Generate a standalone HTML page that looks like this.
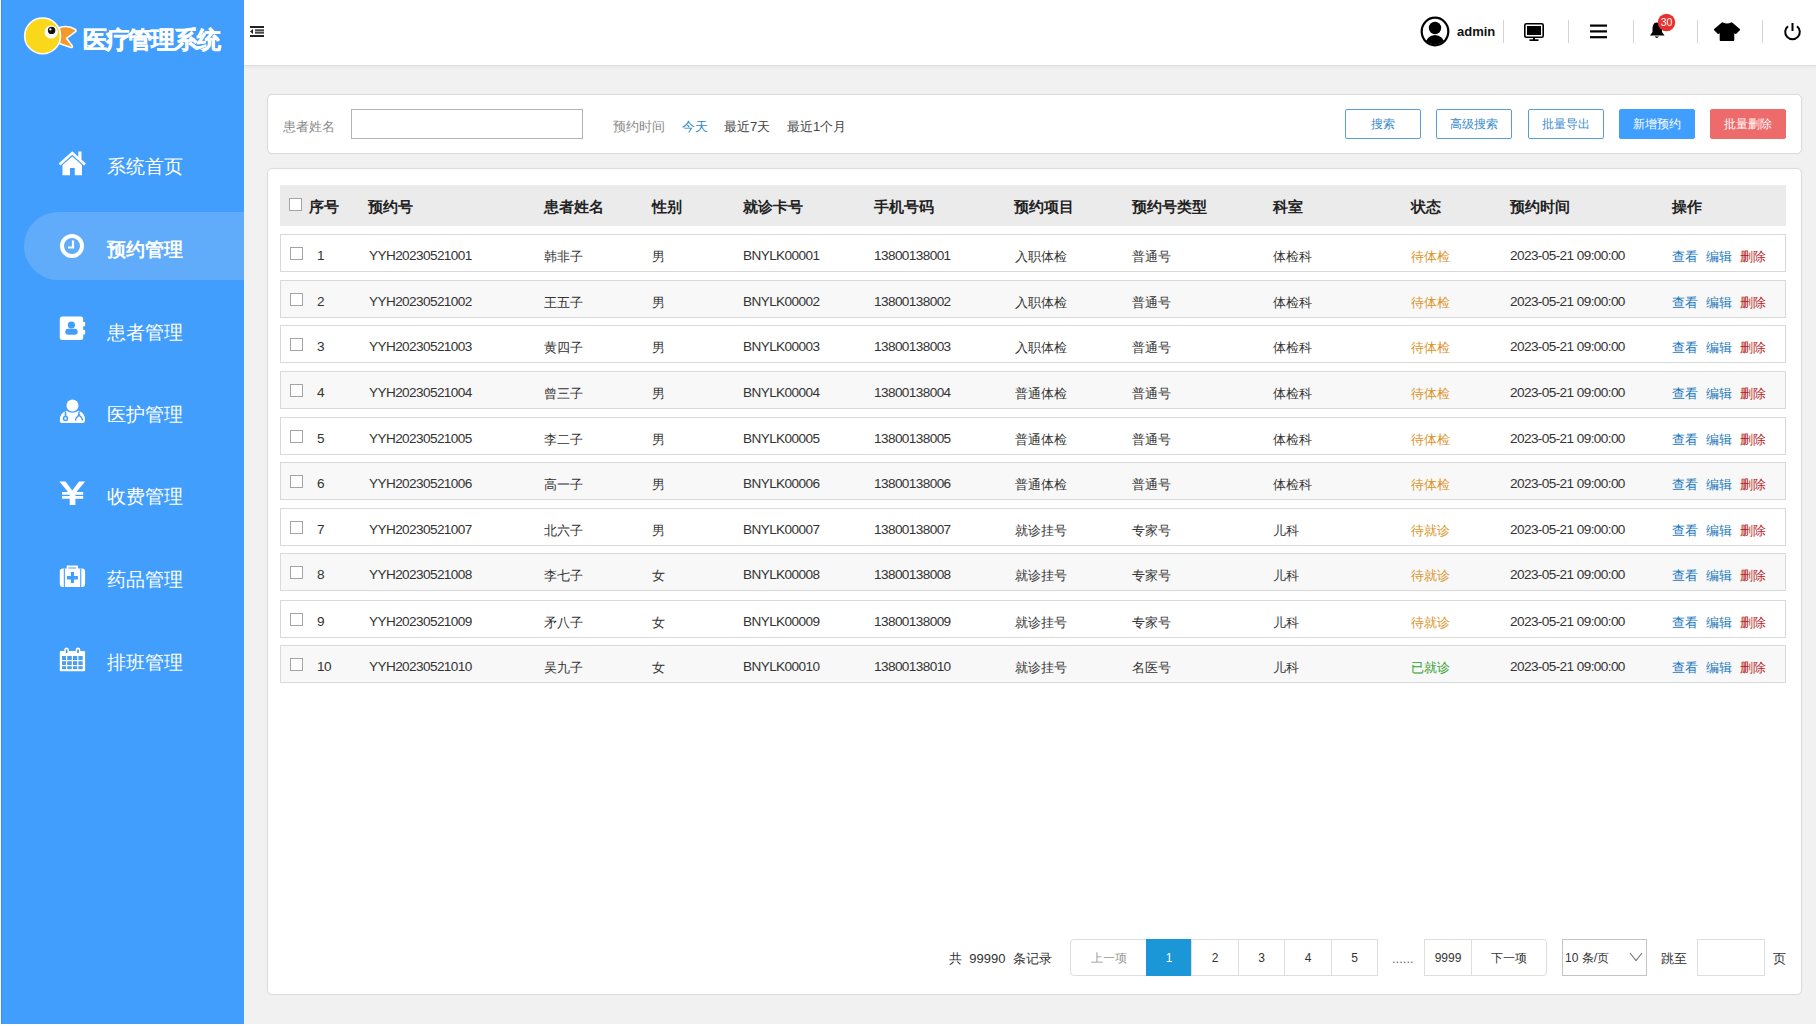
<!DOCTYPE html>
<html><head><meta charset="utf-8"><style>
*{margin:0;padding:0;box-sizing:border-box}
html,body{width:1816px;height:1026px;overflow:hidden;background:#fff;font-family:"Liberation Sans",sans-serif;color:#333}
.abs{position:absolute}
#bg{position:absolute;left:1px;top:0;width:1815px;height:1024px;background:#f1f1f1}
#side{position:absolute;left:0;top:0;width:244px;height:1024px;background:#429efd;box-shadow:inset 1px 0 0 #fff, inset 2px 0 0 #3a8ee0}
#logo-t{position:absolute;left:83px;top:28px;font-size:24px;font-weight:900;color:#fff;letter-spacing:-1.3px;-webkit-text-stroke:0.5px #fff;white-space:nowrap;line-height:1}
.mi{position:absolute;left:0;width:244px;height:68px}
.mi .ic{position:absolute;left:58px;top:50%;transform:translateY(-50%)}
.mi .tx{position:absolute;left:107px;top:50%;transform:translateY(-50%);margin-top:1px;font-size:19px;color:#fff;white-space:nowrap;line-height:1}
.mi.act{background:#60acfb;border-radius:34px 0 0 34px;left:24px;width:220px}
.mi.act .ic{left:34px} .mi.act .tx{left:83px;font-weight:bold;margin-top:3px}
#head{position:absolute;left:244px;top:0;width:1572px;height:66px;background:#fff;border-bottom:1px solid #dedede;box-shadow:0 2px 3px rgba(0,0,0,0.035)}
.card{position:absolute;background:#fff;border:1px solid #dcdcdc;border-radius:5px;box-shadow:0 0 2px rgba(0,0,0,0.04)}
.lbl{position:absolute;font-size:13px;color:#888;white-space:nowrap;line-height:1}
.btn{position:absolute;top:14px;width:76px;height:30px;border:1px solid #5aa0d0;border-radius:2px;font-size:12px;color:#3a8ccc;text-align:center;line-height:28px;background:#fff}
.btn.blue{background:#409efe;border-color:#409efe;color:#fff}
.btn.red{background:#ee6b6b;border-color:#ee6b6b;color:#fff}
#thead{position:absolute;left:12px;top:16px;width:1506px;height:41px;background:#ebebeb}
.th{position:absolute;top:50%;transform:translateY(-50%);font-size:15px;font-weight:bold;color:#222;white-space:nowrap;line-height:1}
.row{position:absolute;left:280px;width:1506px;height:38px;background:#fff;border:1px solid #d9d9d9}
.row.even{background:#f8f8f8}
.cb{position:absolute;left:9px;top:11.5px;width:13px;height:13px;border:1px solid #a4a4a4;background:#fff}
.c{position:absolute;top:50%;transform:translateY(-50%);margin-top:2.5px;font-size:13.6px;letter-spacing:-0.6px;color:#333;white-space:nowrap;line-height:1}
.c.cn{font-size:13px;letter-spacing:0;margin-top:3px}
.st{color:#dc9428} .st.green{color:#2ea12b}
.c.v{color:#1b78bd} .c.d{color:#b81d22}
.sep{top:20px;width:1px;height:23px;background:#d4d4d4}
.pg{position:absolute;top:938.5px;height:37px;border:1px solid #dedede;font-size:12px;color:#333;text-align:center;line-height:36px;background:#fff}
</style></head><body>
<div id="bg"></div>
<div id="side">
  <svg class="abs" style="left:0;top:0" width="90" height="70" viewBox="0 0 90 70">
    <path d="M59.5 27.6 Q68 24.6 75.3 29.4 Q76.8 30.6 75.2 31.8 L66.5 38.3 L72.2 45.8 Q73 47.6 70.8 47.4 L59.5 43.6 Z" fill="#f39a2a" stroke="#fff" stroke-width="1.6" stroke-linejoin="round"/>
    <circle cx="42.6" cy="35.9" r="17.9" fill="#f9d81c" stroke="#fff" stroke-width="1.6"/>
    <circle cx="51.2" cy="32" r="6.6" fill="#fff"/>
    <circle cx="51.6" cy="30.4" r="3.7" fill="#111"/>
    <circle cx="50.4" cy="29.4" r="1.1" fill="#fff"/>
  </svg>
  <div id="logo-t">医疗管理系统</div>
  <div class="mi" style="top:131px"><span class="tx">系统首页</span></div>
  <div class="mi act" style="top:212px"><span class="tx">预约管理</span></div>
  <div class="mi" style="top:297px"><span class="tx">患者管理</span></div>
  <div class="mi" style="top:379px"><span class="tx">医护管理</span></div>
  <div class="mi" style="top:461px"><span class="tx">收费管理</span></div>
  <div class="mi" style="top:544px"><span class="tx">药品管理</span></div>
  <div class="mi" style="top:627px"><span class="tx">排班管理</span></div>
<svg class="abs" style="left:0;top:0" width="244" height="700" viewBox="0 0 244 700">
  <g fill="#fff">
    <path d="M59.5 164.5 L72.3 153 L85 164.5" fill="none" stroke="#fff" stroke-width="2.6" stroke-linejoin="miter"/>
    <rect x="78.3" y="151.5" width="3.2" height="8"/>
    <path d="M62.5 165 L72.3 156.5 L82 165 V175.2 H74.8 V168 H70 V175.2 H62.5 Z"/>
  </g>
  <circle cx="72" cy="246" r="10" fill="none" stroke="#fff" stroke-width="4"/>
  <path d="M73 240.5 V247.5 H68" fill="none" stroke="#fff" stroke-width="2.2"/>
  <rect x="59.8" y="316.6" width="23.4" height="23.4" rx="2.5" fill="#fff"/>
  <rect x="82.5" y="322" width="2.6" height="4.2" fill="#fff"/>
  <rect x="82.5" y="330" width="2.6" height="4.5" fill="#fff"/>
  <circle cx="71.4" cy="325" r="3.6" fill="#429efd"/>
  <rect x="65.3" y="328.8" width="12.4" height="6" rx="3" fill="#429efd"/>
  <circle cx="72.5" cy="405.6" r="6" fill="#fff"/>
  <path d="M59.8 420.5 Q59.5 413 66.5 410.8 Q72.5 414.5 78.5 410.8 Q85.4 413 85.1 420.5 Q85 423 82.5 423 H62.3 Q59.8 423 59.8 420.5 Z" fill="#fff"/>
  <path d="M65.5 411.5 V417" stroke="#429efd" stroke-width="1.6" fill="none"/>
  <circle cx="65.5" cy="418.5" r="2" fill="none" stroke="#429efd" stroke-width="1.5"/>
  <path d="M79 411.5 V414 Q79 416 77 417 Q75.5 418 75.5 420.5 M79 414 Q79 416 81 417 Q82.5 418 82.5 420.5" stroke="#429efd" stroke-width="1.5" fill="none"/>
  <path d="M59.4 481.6 H65.5 L72.3 490.5 L79 481.6 H85.1 L76.5 492 H83.2 V494.8 H75.4 V496 H83.2 V498.8 H75.4 V505 H69.7 V498.8 H62 V496 H69.7 V494.8 H62 V492 H68 Z" fill="#fff"/>
  <path d="M67.6 569 V566.5 H77 V569" fill="none" stroke="#fff" stroke-width="1.8"/>
  <rect x="59.8" y="568.5" width="25.3" height="18.5" rx="3" fill="#fff"/>
  <rect x="63.8" y="568.5" width="1.1" height="18.5" fill="#429efd"/>
  <rect x="80.2" y="568.5" width="1.1" height="18.5" fill="#429efd"/>
  <path d="M70.9 572 H74 V576 H77.9 V579.6 H74 V583 H70.9 V579.6 H67 V576 H70.9 Z" fill="#429efd"/>
  <rect x="59.8" y="651" width="25.3" height="20.2" rx="1" fill="#fff"/>
  <rect x="64.3" y="647.5" width="4.6" height="7" rx="2.3" fill="#fff"/>
  <rect x="75.7" y="647.5" width="4.6" height="7" rx="2.3" fill="#fff"/>
  <rect x="65.8" y="649.5" width="1.6" height="3.5" fill="#3d8fe0"/>
  <rect x="77.2" y="649.5" width="1.6" height="3.5" fill="#3d8fe0"/>
  <g fill="#4a9ef0">
    <rect x="62" y="656" width="4" height="4"/><rect x="67.2" y="656" width="4.6" height="4"/><rect x="73" y="656" width="4.2" height="4"/><rect x="78.4" y="656" width="4.3" height="4"/>
    <rect x="62" y="661.2" width="4" height="3.8"/><rect x="67.2" y="661.2" width="4.6" height="3.8"/><rect x="73" y="661.2" width="4.2" height="3.8"/><rect x="78.4" y="661.2" width="4.3" height="3.8"/>
    <rect x="62" y="666.2" width="4" height="3"/><rect x="67.2" y="666.2" width="4.6" height="3"/><rect x="73" y="666.2" width="4.2" height="3"/><rect x="78.4" y="666.2" width="4.3" height="3"/>
  </g>
</svg>
</div>
<div id="head">
  <svg class="abs" style="left:6px;top:26px" width="14" height="11" viewBox="0 0 14 11"><rect x="0" y="0" width="14" height="2" fill="#222"/><rect x="5" y="3.5" width="9" height="4" fill="#aaa"/><rect x="5" y="3.5" width="9" height="1.2" fill="#222"/><rect x="5" y="6.3" width="9" height="1.2" fill="#222"/><path d="M0 5.5 L3 3 V8 Z" fill="#222"/><rect x="0" y="9" width="14" height="2" fill="#222"/></svg>
</div>
<svg class="abs" style="left:1420px;top:16px" width="30" height="31" viewBox="0 0 30 31">
  <defs><clipPath id="cc"><ellipse cx="15" cy="15.5" rx="12.5" ry="13"/></clipPath></defs>
  <ellipse cx="15" cy="15.5" rx="13.3" ry="13.8" fill="none" stroke="#000" stroke-width="2.2"/>
  <g clip-path="url(#cc)"><circle cx="15" cy="12" r="6.2" fill="#000"/><ellipse cx="15" cy="28" rx="9.5" ry="9" fill="#000"/></g>
</svg>
<div class="abs" style="left:1457px;top:24.5px;font-size:13px;font-weight:bold;color:#111;line-height:1;letter-spacing:0">admin</div>
<div class="abs sep" style="left:1503px"></div>
<svg class="abs" style="left:1524px;top:23px" width="20" height="18" viewBox="0 0 20 18"><rect x="0.8" y="0.8" width="18.4" height="13.4" rx="1.5" fill="none" stroke="#000" stroke-width="1.6"/><rect x="3" y="3" width="14" height="9" fill="#000"/><rect x="9" y="14" width="2" height="3" fill="#000"/><rect x="5.5" y="16.3" width="9" height="1.7" fill="#000"/></svg>
<div class="abs sep" style="left:1568px"></div>
<svg class="abs" style="left:1590px;top:24px" width="17" height="15" viewBox="0 0 17 15"><rect x="0" y="0.5" width="17" height="2.2" fill="#000"/><rect x="0" y="6.3" width="17" height="2.2" fill="#000"/><rect x="0" y="12.1" width="17" height="2.2" fill="#000"/></svg>
<div class="abs sep" style="left:1633px"></div>
<svg class="abs" style="left:1649px;top:21px" width="17" height="19" viewBox="0 0 17 19"><path d="M7.5 1.5 C4.5 1.5 3.5 5 3.5 8 V11 L1 14.5 H15.5 L13 11 V8 C13 5 10.5 1.5 7.5 1.5 Z" fill="#000"/><path d="M5.5 15.6 H10 Q7.75 18.2 5.5 15.6 Z" fill="#000"/></svg>
<svg class="abs" style="left:1657px;top:13px" width="19" height="19" viewBox="0 0 19 19"><circle cx="9.5" cy="9.5" r="8.7" fill="#e8312e"/><text x="9.5" y="13.3" text-anchor="middle" font-family="Liberation Sans" font-size="10.5" fill="#fff">30</text></svg>
<div class="abs sep" style="left:1697px"></div>
<svg class="abs" style="left:1713px;top:21px" width="28" height="21" viewBox="0 0 28 21"><path d="M9.4 2.2 Q14 4.6 18.6 2.2 L26.2 8.6 L22.7 12 L20.4 10.6 V19 H7.6 V10.6 L5.3 12 L1.8 8.6 Z" fill="#000" stroke="#000" stroke-width="1.8" stroke-linejoin="round"/></svg>
<div class="abs sep" style="left:1762px"></div>
<svg class="abs" style="left:1783px;top:22px" width="19" height="19" viewBox="0 0 19 19"><path d="M5 4.2 A7.3 7.3 0 1 0 14 4.2" fill="none" stroke="#000" stroke-width="2"/><rect x="8.5" y="1" width="2" height="8" fill="#000"/></svg>
<div class="card" style="left:267px;top:94px;width:1535px;height:60px">
  <div class="lbl" style="left:15px;top:25px">患者姓名</div>
  <div class="abs" style="left:83px;top:14px;width:232px;height:30px;border:1px solid #b4b4b4;background:#fff"></div>
  <div class="lbl" style="left:345px;top:25px">预约时间</div>
  <div class="lbl" style="left:414px;top:25px;color:#2a88c8">今天</div>
  <div class="lbl" style="left:456px;top:25px;color:#444">最近7天</div>
  <div class="lbl" style="left:519px;top:25px;color:#444">最近1个月</div>
  <div class="btn" style="left:1077px">搜索</div>
  <div class="btn" style="left:1168px">高级搜索</div>
  <div class="btn" style="left:1260px">批量导出</div>
  <div class="btn blue" style="left:1351px">新增预约</div>
  <div class="btn red" style="left:1442px">批量删除</div>
</div>
<div class="card" style="left:267px;top:168px;width:1535px;height:827px">
  <div id="thead">
    <i class="cb" style="left:9px;top:13px"></i>
    <span class="th" style="left:29px">序号</span>
    <span class="th" style="left:88px">预约号</span>
    <span class="th" style="left:264px">患者姓名</span>
    <span class="th" style="left:372px">性别</span>
    <span class="th" style="left:463px">就诊卡号</span>
    <span class="th" style="left:594px">手机号码</span>
    <span class="th" style="left:734px">预约项目</span>
    <span class="th" style="left:852px">预约号类型</span>
    <span class="th" style="left:993px">科室</span>
    <span class="th" style="left:1131px">状态</span>
    <span class="th" style="left:1230px">预约时间</span>
    <span class="th" style="left:1392px">操作</span>
  </div>
</div>
<div class="row" style="top:234px"><i class="cb"></i><span class="c" style="left:36px">1</span><span class="c" style="left:88px">YYH20230521001</span><span class="c cn" style="left:263px">韩非子</span><span class="c cn" style="left:371px">男</span><span class="c" style="left:462px">BNYLK00001</span><span class="c" style="left:593px">13800138001</span><span class="c cn" style="left:734px">入职体检</span><span class="c cn" style="left:851px">普通号</span><span class="c cn" style="left:992px">体检科</span><span class="c cn st" style="left:1130px">待体检</span><span class="c" style="left:1229px">2023-05-21 09:00:00</span><span class="c cn v" style="left:1391px">查看</span><span class="c cn v" style="left:1425px">编辑</span><span class="c cn d" style="left:1458.5px">删除</span></div>
<div class="row even" style="top:280px"><i class="cb"></i><span class="c" style="left:36px">2</span><span class="c" style="left:88px">YYH20230521002</span><span class="c cn" style="left:263px">王五子</span><span class="c cn" style="left:371px">男</span><span class="c" style="left:462px">BNYLK00002</span><span class="c" style="left:593px">13800138002</span><span class="c cn" style="left:734px">入职体检</span><span class="c cn" style="left:851px">普通号</span><span class="c cn" style="left:992px">体检科</span><span class="c cn st" style="left:1130px">待体检</span><span class="c" style="left:1229px">2023-05-21 09:00:00</span><span class="c cn v" style="left:1391px">查看</span><span class="c cn v" style="left:1425px">编辑</span><span class="c cn d" style="left:1458.5px">删除</span></div>
<div class="row" style="top:325px"><i class="cb"></i><span class="c" style="left:36px">3</span><span class="c" style="left:88px">YYH20230521003</span><span class="c cn" style="left:263px">黄四子</span><span class="c cn" style="left:371px">男</span><span class="c" style="left:462px">BNYLK00003</span><span class="c" style="left:593px">13800138003</span><span class="c cn" style="left:734px">入职体检</span><span class="c cn" style="left:851px">普通号</span><span class="c cn" style="left:992px">体检科</span><span class="c cn st" style="left:1130px">待体检</span><span class="c" style="left:1229px">2023-05-21 09:00:00</span><span class="c cn v" style="left:1391px">查看</span><span class="c cn v" style="left:1425px">编辑</span><span class="c cn d" style="left:1458.5px">删除</span></div>
<div class="row even" style="top:371px"><i class="cb"></i><span class="c" style="left:36px">4</span><span class="c" style="left:88px">YYH20230521004</span><span class="c cn" style="left:263px">曾三子</span><span class="c cn" style="left:371px">男</span><span class="c" style="left:462px">BNYLK00004</span><span class="c" style="left:593px">13800138004</span><span class="c cn" style="left:734px">普通体检</span><span class="c cn" style="left:851px">普通号</span><span class="c cn" style="left:992px">体检科</span><span class="c cn st" style="left:1130px">待体检</span><span class="c" style="left:1229px">2023-05-21 09:00:00</span><span class="c cn v" style="left:1391px">查看</span><span class="c cn v" style="left:1425px">编辑</span><span class="c cn d" style="left:1458.5px">删除</span></div>
<div class="row" style="top:417px"><i class="cb"></i><span class="c" style="left:36px">5</span><span class="c" style="left:88px">YYH20230521005</span><span class="c cn" style="left:263px">李二子</span><span class="c cn" style="left:371px">男</span><span class="c" style="left:462px">BNYLK00005</span><span class="c" style="left:593px">13800138005</span><span class="c cn" style="left:734px">普通体检</span><span class="c cn" style="left:851px">普通号</span><span class="c cn" style="left:992px">体检科</span><span class="c cn st" style="left:1130px">待体检</span><span class="c" style="left:1229px">2023-05-21 09:00:00</span><span class="c cn v" style="left:1391px">查看</span><span class="c cn v" style="left:1425px">编辑</span><span class="c cn d" style="left:1458.5px">删除</span></div>
<div class="row even" style="top:462px"><i class="cb"></i><span class="c" style="left:36px">6</span><span class="c" style="left:88px">YYH20230521006</span><span class="c cn" style="left:263px">高一子</span><span class="c cn" style="left:371px">男</span><span class="c" style="left:462px">BNYLK00006</span><span class="c" style="left:593px">13800138006</span><span class="c cn" style="left:734px">普通体检</span><span class="c cn" style="left:851px">普通号</span><span class="c cn" style="left:992px">体检科</span><span class="c cn st" style="left:1130px">待体检</span><span class="c" style="left:1229px">2023-05-21 09:00:00</span><span class="c cn v" style="left:1391px">查看</span><span class="c cn v" style="left:1425px">编辑</span><span class="c cn d" style="left:1458.5px">删除</span></div>
<div class="row" style="top:508px"><i class="cb"></i><span class="c" style="left:36px">7</span><span class="c" style="left:88px">YYH20230521007</span><span class="c cn" style="left:263px">北六子</span><span class="c cn" style="left:371px">男</span><span class="c" style="left:462px">BNYLK00007</span><span class="c" style="left:593px">13800138007</span><span class="c cn" style="left:734px">就诊挂号</span><span class="c cn" style="left:851px">专家号</span><span class="c cn" style="left:992px">儿科</span><span class="c cn st" style="left:1130px">待就诊</span><span class="c" style="left:1229px">2023-05-21 09:00:00</span><span class="c cn v" style="left:1391px">查看</span><span class="c cn v" style="left:1425px">编辑</span><span class="c cn d" style="left:1458.5px">删除</span></div>
<div class="row even" style="top:553px"><i class="cb"></i><span class="c" style="left:36px">8</span><span class="c" style="left:88px">YYH20230521008</span><span class="c cn" style="left:263px">李七子</span><span class="c cn" style="left:371px">女</span><span class="c" style="left:462px">BNYLK00008</span><span class="c" style="left:593px">13800138008</span><span class="c cn" style="left:734px">就诊挂号</span><span class="c cn" style="left:851px">专家号</span><span class="c cn" style="left:992px">儿科</span><span class="c cn st" style="left:1130px">待就诊</span><span class="c" style="left:1229px">2023-05-21 09:00:00</span><span class="c cn v" style="left:1391px">查看</span><span class="c cn v" style="left:1425px">编辑</span><span class="c cn d" style="left:1458.5px">删除</span></div>
<div class="row" style="top:600px"><i class="cb"></i><span class="c" style="left:36px">9</span><span class="c" style="left:88px">YYH20230521009</span><span class="c cn" style="left:263px">矛八子</span><span class="c cn" style="left:371px">女</span><span class="c" style="left:462px">BNYLK00009</span><span class="c" style="left:593px">13800138009</span><span class="c cn" style="left:734px">就诊挂号</span><span class="c cn" style="left:851px">专家号</span><span class="c cn" style="left:992px">儿科</span><span class="c cn st" style="left:1130px">待就诊</span><span class="c" style="left:1229px">2023-05-21 09:00:00</span><span class="c cn v" style="left:1391px">查看</span><span class="c cn v" style="left:1425px">编辑</span><span class="c cn d" style="left:1458.5px">删除</span></div>
<div class="row even" style="top:645px"><i class="cb"></i><span class="c" style="left:36px">10</span><span class="c" style="left:88px">YYH20230521010</span><span class="c cn" style="left:263px">吴九子</span><span class="c cn" style="left:371px">女</span><span class="c" style="left:462px">BNYLK00010</span><span class="c" style="left:593px">13800138010</span><span class="c cn" style="left:734px">就诊挂号</span><span class="c cn" style="left:851px">名医号</span><span class="c cn" style="left:992px">儿科</span><span class="c cn st green" style="left:1130px">已就诊</span><span class="c" style="left:1229px">2023-05-21 09:00:00</span><span class="c cn v" style="left:1391px">查看</span><span class="c cn v" style="left:1425px">编辑</span><span class="c cn d" style="left:1458.5px">删除</span></div>
<div class="lbl" style="left:949px;top:952px;color:#333">共&nbsp; 99990 &nbsp;条记录</div>
<div class="pg" style="left:1070px;width:77px;border-radius:4px 0 0 4px;color:#999">上一项</div>
<div class="pg" style="left:1146px;width:46px;background:#1b96d6;border-color:#1b96d6;color:#fff">1</div>
<div class="pg" style="left:1191px;width:48px">2</div>
<div class="pg" style="left:1238px;width:47px">3</div>
<div class="pg" style="left:1284px;width:48px">4</div>
<div class="pg" style="left:1331px;width:47px">5</div>
<div class="lbl" style="left:1392px;top:952px;color:#666">......</div>
<div class="pg" style="left:1424px;width:48px">9999</div>
<div class="pg" style="left:1471px;width:76px;border-radius:0 4px 4px 0">下一项</div>
<div class="pg" style="left:1562px;width:85px;text-align:left;padding-left:2px;border-color:#c4c4c4">10 条/页</div>
<svg class="abs" style="left:1629px;top:952px" width="14" height="10" viewBox="0 0 14 10"><path d="M1 1 L7 8.5 L13 1" fill="none" stroke="#777" stroke-width="1.2"/></svg>
<div class="lbl" style="left:1661px;top:952px;color:#333">跳至</div>
<div class="pg" style="left:1697px;width:68px"></div>
<div class="lbl" style="left:1773px;top:952px;color:#333">页</div>
</body></html>
